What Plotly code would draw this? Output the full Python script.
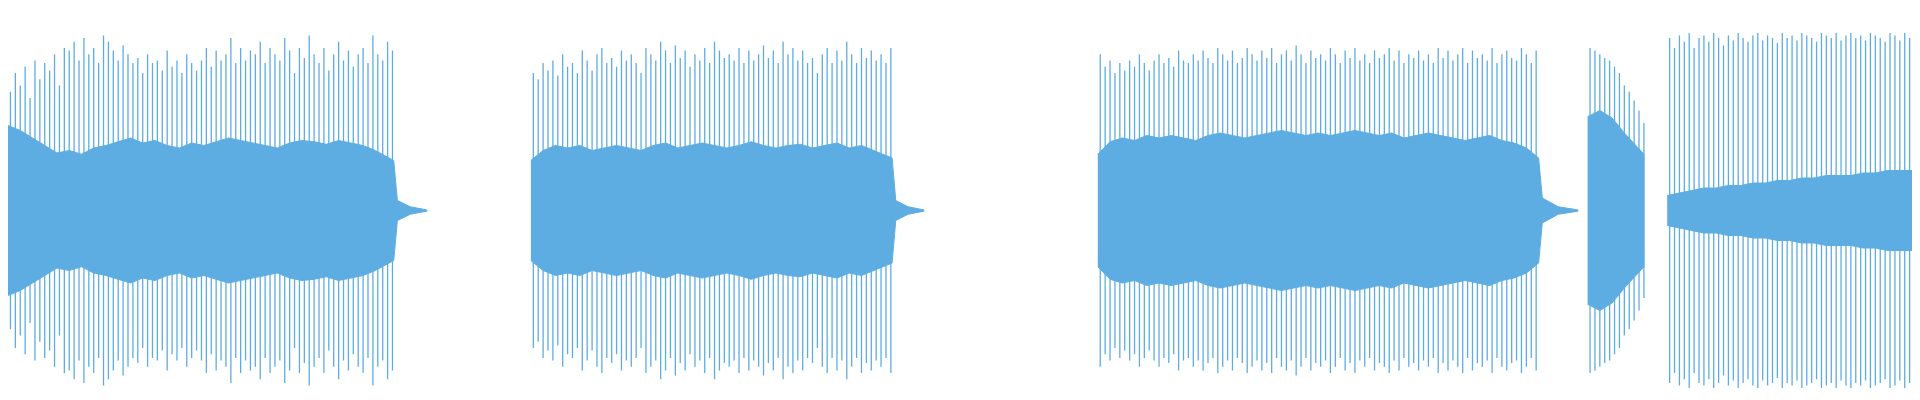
import plotly.graph_objects as go

seg_starts = [0, 427, 890, 1290, 1355]
seg_ends = [315, 722, 1250, 1336, 1568]
tail_ends = [342, 748, 1282, 1290, 1568]
tail_amp = [8, 8, 10, 0, 0]
spacing = 4
spikes = [
 [95,110,100,115,90,120,105,118,112,125,100,130,128,135,120,138,125,130,118,140,135,128,120,132,125,118,122,110,125,118,120,112,128,115,120,110,125,118,112,120,130,115,128,120,125,138,118,130,120,128,125,135,118,130,125,120,138,128,110,130,122,140,125,118,130,112,125,135,120,128,115,125,130,118,140,125,120,135,128],
 [110,105,118,112,120,108,125,115,118,110,128,120,112,125,130,118,122,115,128,120,125,118,110,130,125,120,135,128,118,132,122,128,115,125,120,130,118,135,128,122,125,120,130,118,128,120,125,132,122,128,118,135,125,130,120,128,118,122,110,125,130,118,128,120,135,125,118,130,122,128,120,125,118,130],
 [125,115,120,110,118,112,120,115,125,118,112,120,125,118,122,115,128,120,118,125,120,128,122,118,130,125,120,128,118,122,130,125,120,128,122,130,118,125,128,120,132,125,118,128,122,125,120,130,125,118,128,122,130,120,125,118,128,122,125,130,120,128,118,125,122,128,120,125,118,130,122,128,120,125,130,118,128,122,125,120,130,118,125,128,122,120,130,125,118,128,122],
 [130,128,125,122,120,115,110,100,95,88,80,70],
 [138,130,140,135,142,130,138,140,135,142,138,132,140,136,142,138,135,140,142,136,140,138,134,142,138,140,136,142,140,138,135,142,140,138,142,136,140,142,138,140,136,142,140,138,135,142,140,136,142,138,140,135,142],
]
body_step = 10
bodies = [
 [68,64,58,52,46,48,45,50,52,55,58,54,56,52,50,54,52,55,58,56,54,52,50,54,56,55,53,56,54,52,48,40],
 [40,48,52,50,52,48,50,52,50,48,52,54,50,52,54,52,50,52,55,52,50,52,53,50,52,54,50,52,48,42],
 [45,55,58,56,60,58,60,58,56,60,62,60,58,60,62,64,62,60,62,60,62,64,62,60,62,58,60,62,60,58,56,58,60,56,54,50,42],
 [75,80,74,62,45],
 [12,14,16,18,18,20,20,22,22,24,24,26,26,28,28,28,30,30,32,32,32,34],
]
color = "#5DADE2"
fig = go.Figure()
for s, e, t, ta, sp, bd in zip(seg_starts, seg_ends, tail_ends, tail_amp, spikes, bodies):
    xs, ys = [], []
    for i, a in enumerate(sp):
        x = s + 2 + i * spacing
        if x > e: break
        xs += [x, x, None]; ys += [-a, a, None]
    fig.add_trace(go.Scatter(x=xs, y=ys, mode="lines", line=dict(color=color, width=1.3), hoverinfo="skip"))
    bx = [min(s + i * body_step, e) for i in range(len(bd))]
    bx[-1] = e
    ux, uy = bx[:], bd[:]
    if t > e:
        ux += [e + 3, (e + t) / 2, t]; uy += [ta, 3, 0.5]
    fig.add_trace(go.Scatter(x=ux + ux[::-1], y=uy + [-v for v in uy[::-1]], fill="toself",
                             mode="lines", line=dict(color=color, width=1), fillcolor=color, hoverinfo="skip"))
fig.update_layout(width=1920, height=400, margin=dict(l=0, r=0, t=0, b=0), showlegend=False,
                  plot_bgcolor="white", paper_bgcolor="white",
                  xaxis=dict(visible=False, range=[0, 1568]),
                  yaxis=dict(visible=False, range=[-158, 162]))
fig.write_html("out.html")
